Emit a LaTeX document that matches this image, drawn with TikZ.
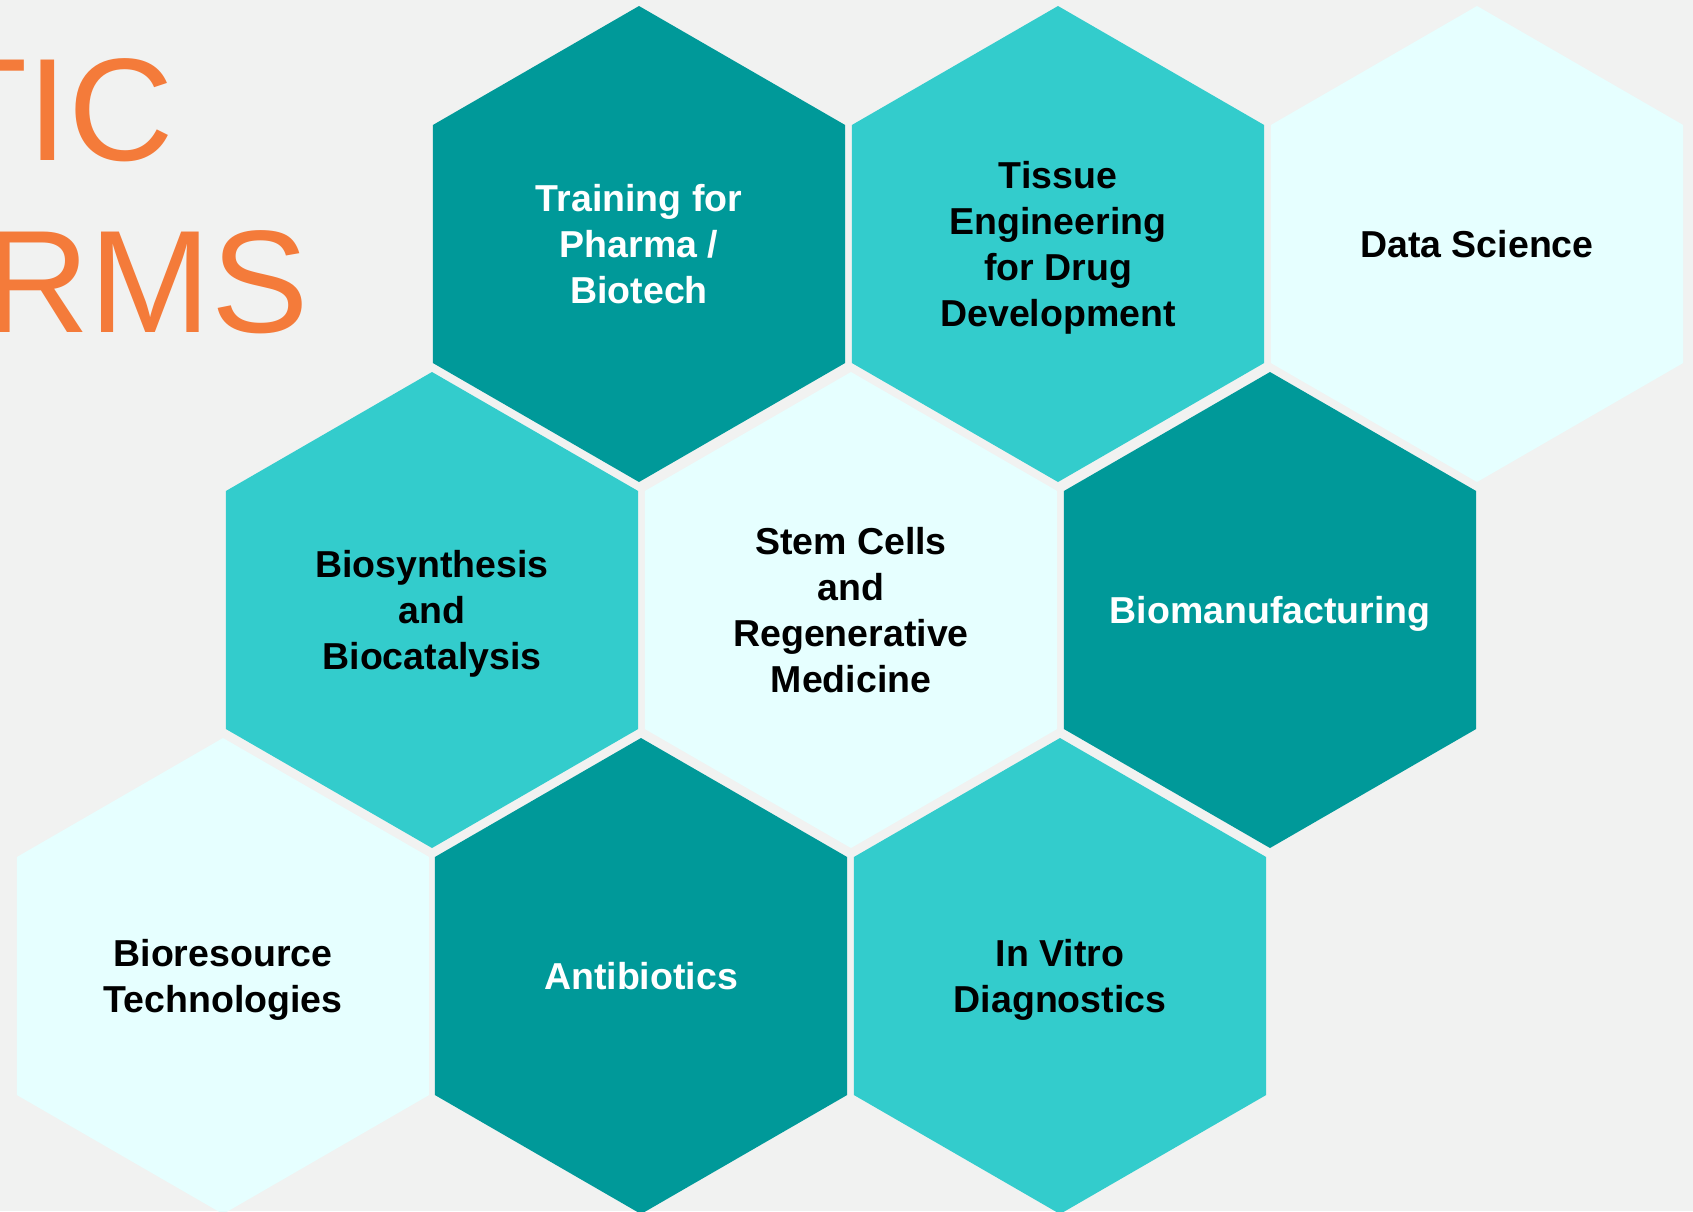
\documentclass[tikz,border=0pt]{standalone}
\usepackage{fontspec}
\setmainfont{Liberation Sans}
\usetikzlibrary{shapes.geometric}
\definecolor{cellDark}{HTML}{009999}
\definecolor{cellMid}{HTML}{33CCCC}
\definecolor{cellLight}{HTML}{E6FFFF}
\definecolor{pageBg}{HTML}{F1F2F1}
\definecolor{titleOrange}{HTML}{F47B3A}
\begin{document}
\begin{tikzpicture}[x=1pt,y=-1pt,
    cell/.style={regular polygon, regular polygon sides=6, shape border rotate=30,
      minimum size=476pt, inner sep=0pt, outer sep=0pt, align=center, text depth=0pt,
      font=\fontsize{37.5}{46}\selectfont\bfseries},
    darkcell/.style={cell, fill=cellDark, text=white},
    midcell/.style={cell, fill=cellMid, text=black},
    lightcell/.style={cell, fill=cellLight, text=black},
    titletext/.style={anchor=base east, inner sep=0pt, text=titleOrange,
      font=\fontsize{146}{146}\selectfont}]
  \fill[pageBg] (0,0) rectangle (1693,1211);
  \useasboundingbox (0,0) rectangle (1693,1211);
  % title, cut off at the left edge
  \node[titletext] (title1) at (174,160) {TIC};
  \node[titletext] (title2) at (309,332) {RMS};
  % top row
  \node[darkcell]  (training) at (639,244)  {Training for\\Pharma /\\Biotech};
  \node[midcell]   (tissue)   at (1058,244) {Tissue\\Engineering\\for Drug\\Development};
  \node[lightcell] (datasci)  at (1477,244) {Data Science};
  % middle row
  \node[midcell]   (biosyn)   at (432,610)  {Biosynthesis\\and\\Biocatalysis};
  \node[lightcell] (stemcell) at (851,610)  {Stem Cells\\and\\Regenerative\\Medicine};
  \node[darkcell]  (biomanuf) at (1270,610) {\makebox[0pt]{Biomanufacturing}};
  % bottom row
  \node[lightcell] (biores)   at (223,976)  {Bioresource\\Technologies};
  \node[darkcell]  (antibio)  at (641,976)  {Antibiotics};
  \node[midcell]   (invitro)  at (1060,976) {In Vitro\\Diagnostics};
\end{tikzpicture}
\end{document}
